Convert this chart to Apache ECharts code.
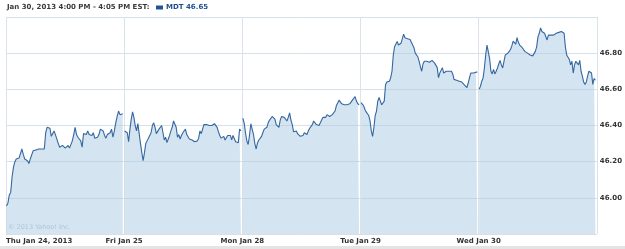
<!DOCTYPE html>
<html><head><meta charset="utf-8">
<script src="https://cdn.jsdelivr.net/npm/echarts@6/dist/echarts.min.js"></script>
<style>html,body{margin:0;padding:0;background:#fff}#c{width:625px;height:249px}</style>
</head><body><div id="c"></div>
<script>
const dayLabels = ['Thu Jan 24, 2013', 'Fri Jan 25', 'Mon Jan 28', 'Tue Jan 29', 'Wed Jan 30'];
const titleText = 'Jan 30, 2013 4:00 PM - 4:05 PM EST:';
const ticker = 'MDT';
const day1 = [45.955,45.97,46.015,46.03,46.115,46.17,46.20,46.215,46.21,46.22,46.225,46.27,46.24,46.215,46.225,46.205,46.19,46.215,46.205,46.26,46.255,46.265,46.26,46.27,46.275,46.27,46.27,46.27,46.36,46.39,46.40,46.385,46.34,46.335,46.37,46.36,46.325,46.30,46.28,46.275,46.29,46.30,46.275,46.27,46.29,46.275,46.265,46.315,46.35,46.39,46.35,46.335,46.325,46.315,46.28,46.355,46.355,46.35,46.37,46.35,46.36,46.345,46.36,46.33,46.34,46.335,46.35,46.38,46.39,46.37,46.345,46.33,46.35,46.345,46.36,46.38,46.335,46.37,46.415,46.45,46.48,46.46,46.46,46.465];
const day2 = [46.37,46.38,46.36,46.31,46.38,46.435,46.475,46.445,46.40,46.37,46.41,46.40,46.30,46.25,46.205,46.25,46.30,46.315,46.31,46.345,46.36,46.40,46.415,46.39,46.355,46.36,46.38,46.39,46.40,46.36,46.32,46.335,46.305,46.30,46.345,46.37,46.39,46.425,46.415,46.39,46.335,46.35,46.325,46.345,46.36,46.37,46.38,46.35,46.34,46.325,46.32,46.32,46.315,46.31,46.31,46.315,46.33,46.37,46.355,46.36,46.405,46.41,46.405,46.405,46.40,46.40,46.40,46.405,46.41,46.40,46.39,46.365,46.345,46.33,46.325,46.34,46.32,46.325,46.345,46.34,46.345,46.32,46.345,46.35,46.31,46.30,46.305,46.38,46.37];
const day3 = [46.44,46.415,46.36,46.315,46.295,46.345,46.41,46.41,46.35,46.30,46.27,46.305,46.32,46.325,46.34,46.36,46.38,46.38,46.39,46.415,46.43,46.43,46.45,46.455,46.435,46.405,46.40,46.39,46.43,46.45,46.46,46.445,46.455,46.425,46.445,46.47,46.43,46.405,46.365,46.375,46.37,46.355,46.345,46.34,46.34,46.345,46.36,46.365,46.35,46.37,46.385,46.38,46.405,46.425,46.415,46.405,46.40,46.40,46.41,46.43,46.445,46.455,46.445,46.46,46.465,46.45,46.45,46.46,46.47,46.48,46.51,46.525,46.54,46.535,46.52,46.525,46.515,46.52,46.515,46.515,46.52,46.525,46.54,46.55,46.56,46.535,46.52,46.515];
const day4 = [46.526,46.52,46.51,46.49,46.475,46.465,46.455,46.425,46.37,46.34,46.39,46.455,46.48,46.535,46.555,46.535,46.515,46.51,46.535,46.625,46.64,46.63,46.645,46.665,46.70,46.79,46.835,46.845,46.865,46.845,46.85,46.855,46.88,46.905,46.885,46.89,46.88,46.885,46.875,46.865,46.845,46.83,46.80,46.795,46.78,46.755,46.725,46.70,46.74,46.755,46.76,46.755,46.76,46.75,46.755,46.76,46.755,46.745,46.735,46.72,46.665,46.69,46.70,46.72,46.69,46.695,46.70,46.695,46.70,46.70,46.70,46.685,46.655,46.65,46.65,46.645,46.645,46.635,46.64,46.635,46.625,46.62,46.61,46.635,46.665,46.69,46.695,46.69,46.69,46.695,46.695];
const day5 = [46.60,46.617,46.645,46.663,46.718,46.79,46.845,46.835,46.77,46.70,46.685,46.71,46.685,46.70,46.718,46.74,46.76,46.735,46.718,46.755,46.79,46.80,46.80,46.795,46.82,46.84,46.867,46.86,46.85,46.886,46.86,46.845,46.845,46.83,46.825,46.81,46.805,46.80,46.795,46.79,46.79,46.785,46.79,46.81,46.835,46.89,46.91,46.94,46.92,46.92,46.91,46.915,46.873,46.90,46.895,46.90,46.895,46.90,46.90,46.91,46.90,46.915,46.915,46.92,46.915,46.91,46.835,46.79,46.78,46.765,46.735,46.755,46.69,46.735,46.755,46.76,46.735,46.76,46.70,46.673,46.64,46.627,46.64,46.673,46.70,46.703,46.69,46.627,46.66,46.65];
const yMin = 45.8, yMax = 47.0, yStep = 0.2;

const days = [day1, day2, day3, day4, day5];
const data = [];
days.forEach((arr, d) => {
  arr.forEach((v, i) => data.push([d + 0.004 + i * 0.984 / (arr.length - 1), v]));
  if (d < days.length - 1) data.push([d + 0.995, '-']);
});
const lastVal = day5[day5.length - 1];
const seriesName = ticker + ' ' + lastVal.toFixed(2);
const FONT = 'DejaVu Sans';

const chart = echarts.init(document.getElementById('c'), null, {renderer: 'canvas'});
chart.setOption({
  animation: false,
  backgroundColor: '#ffffff',
  title: {
    text: titleText, left: 7, top: 4, padding: 0,
    textStyle: {fontFamily: FONT, fontSize: 7, fontWeight: 'bold', color: '#3a3a3a'}
  },
  legend: {
    left: 156, top: 4, padding: 0, icon: 'rect', itemWidth: 7, itemHeight: 4,
    data: [seriesName],
    textStyle: {fontFamily: FONT, fontSize: 7, fontWeight: 'bold', color: '#1f4f8f', padding: [0,0,0,-2]}
  },
  grid: {left: 6, right: 28, top: 17, bottom: 15},
  xAxis: {
    type: 'value', min: 0, max: days.length, interval: 1,
    axisLine: {show: false}, axisTick: {show: false},
    splitLine: {show: true, lineStyle: {color: '#dbe3ea', width: 1}},
    axisLabel: {
      formatter: v => dayLabels[Math.round(v)] || '',
      showMaxLabel: false, alignMinLabel: 'left', margin: 4,
      fontFamily: FONT, fontSize: 7, fontWeight: 'bold', color: '#333'
    }
  },
  yAxis: {
    type: 'value', position: 'right', min: yMin, max: yMax, interval: yStep,
    axisLine: {show: false}, axisTick: {show: false},
    splitLine: {show: true, lineStyle: {color: '#d6e0e8', width: 1}},
    axisLabel: {
      formatter: v => v.toFixed(2), showMinLabel: false, showMaxLabel: false, margin: 3,
      fontFamily: FONT, fontSize: 7, fontWeight: 'bold', color: '#333'
    }
  },
  series: [{
    name: seriesName, type: 'line', data: data, showSymbol: false, connectNulls: false,
    lineStyle: {color: '#35679f', width: 1.1},
    itemStyle: {color: '#1f5596'},
    areaStyle: {color: 'rgba(170,202,228,0.5)', opacity: 1, origin: 'start'}
  }],
  graphic: [
    {type: 'text', left: 8, top: 224, style: {text: '\u00a9 2013 Yahoo! Inc.', fill: '#b0c2d0', font: '6.5px "DejaVu Sans"'}},
    {type: 'rect', left: 0, top: 246, shape: {width: 625, height: 3}, style: {fill: '#e4e4e4'}}
  ]
});
</script></body></html>
